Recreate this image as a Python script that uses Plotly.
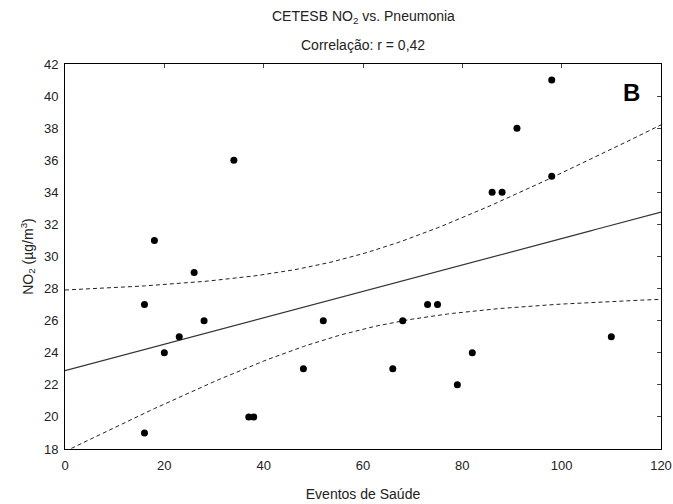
import numpy as np
import plotly.graph_objects as go

# Data
eventos = [16, 16, 18, 20, 23, 26, 28, 34, 37, 38, 48, 52,
           66, 68, 73, 75, 79, 82, 86, 88, 91, 98, 98, 110]
no2 = [27, 19, 31, 24, 25, 29, 26, 36, 20, 20, 23, 26,
       23, 26, 27, 27, 22, 24, 34, 34, 38, 41, 35, 25]

x_ticks = [0, 20, 40, 60, 80, 100, 120]
y_ticks = [18, 20, 22, 24, 26, 28, 30, 32, 34, 36, 38, 40, 42]

# Linear regression with 95% confidence band for the mean
x = np.array(eventos, dtype=float)
y = np.array(no2, dtype=float)
n = len(x)
b1, b0 = np.polyfit(x, y, 1)
resid = y - (b0 + b1 * x)
s = np.sqrt(np.sum(resid ** 2) / (n - 2))
xm = x.mean()
sxx = np.sum((x - xm) ** 2)
t_crit = 2.074  # t(0.975, df=22)
xf = np.linspace(0, 120, 121)
yf = b0 + b1 * xf
hw = t_crit * s * np.sqrt(1.0 / n + (xf - xm) ** 2 / sxx)

fig = go.Figure()
fig.add_trace(go.Scatter(x=xf, y=yf, mode="lines",
                         line=dict(color="#333333", width=1.2), showlegend=False))
fig.add_trace(go.Scatter(x=xf, y=yf + hw, mode="lines",
                         line=dict(color="#222222", width=1, dash="4px,3px"), showlegend=False))
fig.add_trace(go.Scatter(x=xf, y=yf - hw, mode="lines",
                         line=dict(color="#222222", width=1, dash="4px,3px"), showlegend=False))
fig.add_trace(go.Scatter(x=eventos, y=no2, mode="markers",
                         marker=dict(color="black", size=7), showlegend=False))
fig.add_trace(go.Scatter(x=[None], y=[None], xaxis="x2", yaxis="y2", showlegend=False))

font_family = "Liberation Sans, Arial, sans-serif"
fig.update_layout(
    width=673, height=504,
    margin=dict(l=65, r=12, t=64, b=55),
    paper_bgcolor="white", plot_bgcolor="white",
    font=dict(family=font_family, size=13, color="#222222"),
    xaxis=dict(range=[0, 120], tickvals=x_ticks, ticks="", showgrid=False, zeroline=False,
               showline=True, linecolor="black", linewidth=1, mirror=True, automargin=False,
               ticklabelstandoff=4,
               title=dict(text="Eventos de Saúde", font=dict(size=14), standoff=17)),
    yaxis=dict(range=[18, 42], tickvals=y_ticks, ticks="", showgrid=False, zeroline=False,
               showline=True, linecolor="black", linewidth=1, mirror=True, automargin=False,
               ticklabelstandoff=3,
               title=dict(text="NO<sub>2</sub> (µg/m<sup>3</sup>)", font=dict(size=14), standoff=7)),
    xaxis2=dict(range=[0, 120], tickvals=x_ticks, overlaying="x", side="top", ticks="inside",
                ticklen=4, tickcolor="#444444", showticklabels=False, showgrid=False,
                zeroline=False, showline=False, automargin=False),
    yaxis2=dict(range=[18, 42], tickvals=y_ticks, overlaying="y", side="right", ticks="inside",
                ticklen=4, tickcolor="#444444", showticklabels=False, showgrid=False,
                zeroline=False, showline=False, automargin=False),
    annotations=[
        dict(text="CETESB NO<sub>2</sub> vs. Pneumonia", x=0.5, y=1.122, xref="paper",
             yref="paper", showarrow=False, xanchor="center", yanchor="middle",
             font=dict(size=14, color="#222222")),
        dict(text="Correlação: r = 0,42", x=0.5, y=1.05, xref="paper",
             yref="paper", showarrow=False, xanchor="center", yanchor="middle",
             font=dict(size=14, color="#222222")),
        dict(text="<b>B</b>", x=0.951, y=0.927, xref="paper", yref="paper",
             showarrow=False, xanchor="center", yanchor="middle",
             font=dict(size=24, color="black", family=font_family)),
    ],
)

page_fix = ("document.body.style.margin='0';document.body.style.overflow='hidden';"
            "document.documentElement.style.overflow='hidden';")
fig.write_html("out.html", post_script=page_fix, config={"displayModeBar": False})
